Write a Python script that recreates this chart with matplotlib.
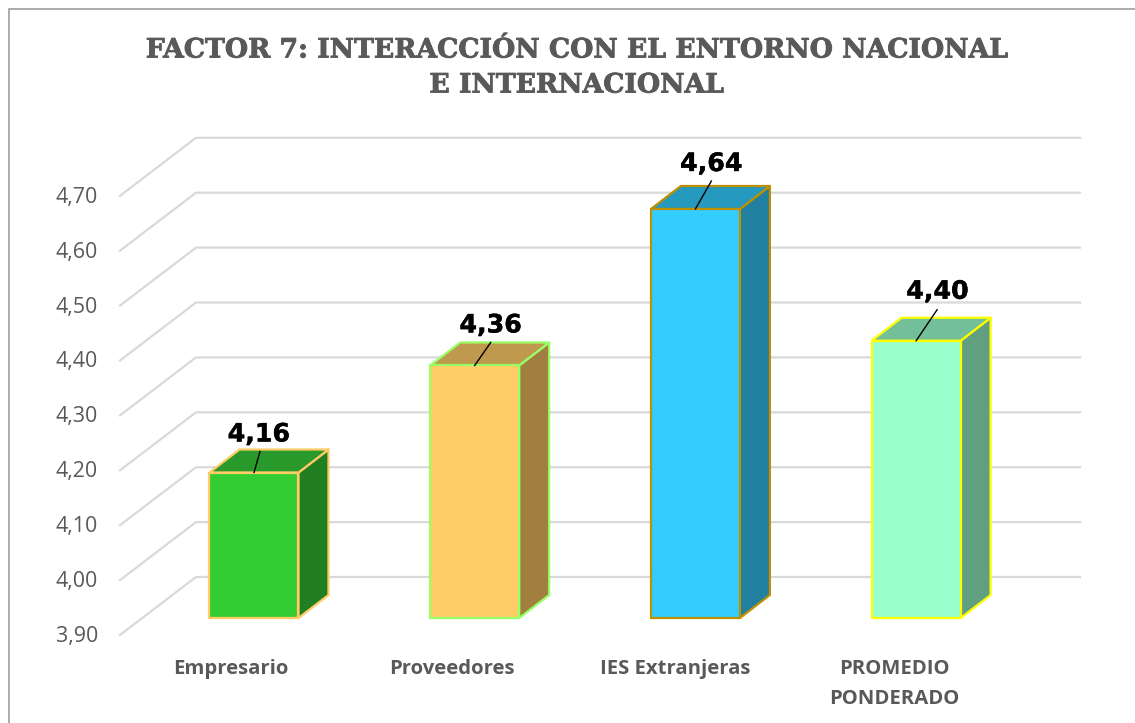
import matplotlib
matplotlib.use("Agg")
import matplotlib.pyplot as plt
import matplotlib.patheffects as pe
from matplotlib.patches import Polygon, Rectangle

# ---- data ----
categories = ["Empresario", "Proveedores", "IES Extranjeras", "PROMEDIO\nPONDERADO"]
values = [4.165, 4.36, 4.645, 4.405]
value_labels = ["4,16", "4,36", "4,64", "4,40"]
yticks = [3.9, 4.0, 4.1, 4.2, 4.3, 4.4, 4.5, 4.6, 4.7]
title_lines = ["FACTOR 7: INTERACCIÓN CON EL ENTORNO NACIONAL", "E INTERNACIONAL"]

# ---- styles ----
W, H = 1135, 723
X0, XSTEP = 254.0, 220.7      # pixel x of first bar centre, spacing
Y0, YSCALE = 618.0, 549.0     # pixel y of the axis base in the bar plane, px per unit
BASE = 3.9
front_cols = ["#33CC33", "#FFCC66", "#33CCFF", "#99FFCC"]
top_cols = ["#28992A", "#BF994D", "#2699BF", "#73BF99"]
side_cols = ["#217F21", "#A07F40", "#217F9F", "#60A080"]
edge_cols = ["#FFCC66", "#99FF66", "#BF9000", "#FFFF00"]
label_off = [(5, -38), (16, -40), (16, -45), (21.5, -49)]
leader_off = [(6, -21), (16, -23), (16, -28), (21, -31)]
cat_off = [-23, -23, -20, -22]
TXT = "#595959"
GRID = "#D9D9D9"

fig = plt.figure(figsize=(W / 100, H / 100), dpi=100, facecolor="white")
ax = fig.add_axes([0, 0, 1, 1])
ax.set_xlim((0 - X0) / XSTEP, (W - X0) / XSTEP)
ax.set_ylim(BASE - (H - Y0) / YSCALE, BASE + Y0 / YSCALE)
ax.axis("off")

px = lambda d: d / XSTEP
py = lambda d: d / YSCALE          # positive = up
fx = lambda p: (p - X0) / XSTEP    # figure pixel -> x data
fy = lambda p: BASE - (p - Y0) / YSCALE  # figure pixel -> y data

# frame (left and top visible)
ax.plot([fx(9), fx(9), fx(1135)], [fy(723), fy(9.5), fy(9.5)],
        color="#969696", lw=1.1, zorder=1, solid_joinstyle="miter")

# walls and grid
x_front, x_back, x_right = fx(120), fx(196), fx(1080)
d_front, d_back = py(-17), py(41)
for t in yticks:
    ax.plot([x_front, x_back, x_right], [t + d_front, t + d_back, t + d_back],
            color=GRID, lw=1.6, zorder=2, solid_joinstyle="round")
    ax.text(fx(98), t + d_front + py(-1.5), f"{t:.2f}".replace(".", ","),
            ha="right", va="center", fontsize=15.4, color=TXT, family="Open Sans")

# bars
bw, dx, dy = px(89), px(30), py(23)
bold = [pe.withStroke(linewidth=0.3, foreground="black")]
for i, v in enumerate(values):
    l, r = i - bw / 2, i + bw / 2
    e = edge_cols[i]
    kw = dict(edgecolor=e, lw=1.6, zorder=3, joinstyle="round")
    ax.add_patch(Polygon([(r, BASE), (r + dx, BASE + dy), (r + dx, v + dy), (r, v)],
                         facecolor=side_cols[i], **kw))
    ax.add_patch(Polygon([(l, v), (l + dx, v + dy), (r + dx, v + dy), (r, v)],
                         facecolor=top_cols[i], **kw))
    ax.add_patch(Rectangle((l, BASE), r - l, v - BASE, facecolor=front_cols[i], **kw))
    lo = leader_off[i]
    ax.plot([i, i + px(lo[0])], [v, v - py(lo[1])], color="black", lw=1.0, zorder=4)
    to = label_off[i]
    ax.text(i + px(to[0]), v - py(to[1]), value_labels[i], ha="center", va="center",
            fontsize=18.2, fontweight="bold", color="black", family="DejaVu Sans",
            zorder=5, path_effects=bold)

# category labels
cat_y = [669, 699]
for i, c in enumerate(categories):
    for j, part in enumerate(c.split("\n")):
        ax.text(i + px(cat_off[i]), fy(cat_y[j]), part, ha="center", va="center",
                fontsize=14.6, fontweight="bold", color=TXT, family="Open Sans")

# title
title_y = [47, 82]
for j, line in enumerate(title_lines):
    ax.text(fx(576.5), fy(title_y[j]), line, ha="center", va="center_baseline",
            fontsize=19.2, fontweight="bold", color=TXT, family="DejaVu Serif",
            path_effects=[pe.withStroke(linewidth=0.6, foreground=TXT)])

fig.savefig("out.png", dpi=100, facecolor="white")
